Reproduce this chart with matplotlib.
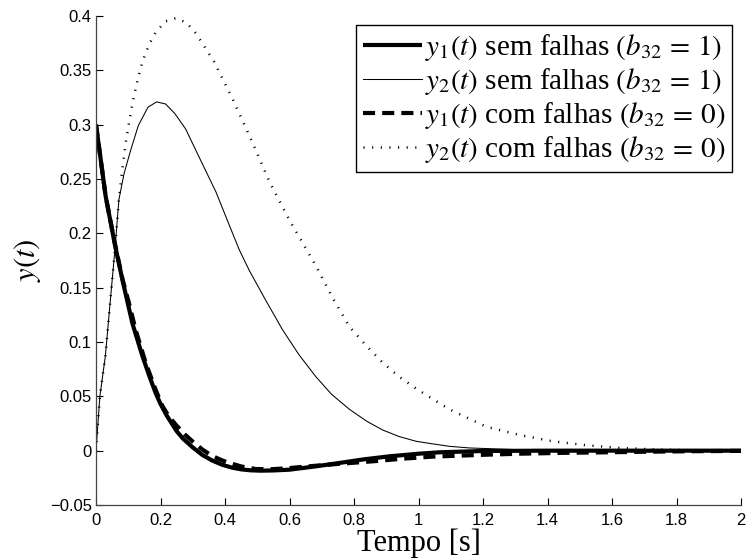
import matplotlib
matplotlib.use("Agg")
import matplotlib.pyplot as plt

plt.rcParams['mathtext.fontset'] = 'stix'
plt.rcParams['font.family'] = ['Liberation Sans', 'DejaVu Sans']

# y1(t) sem falhas (b32 = 1)
t_y1s = [0.0, 0.03, 0.059, 0.082, 0.113, 0.144, 0.165, 0.185, 0.2, 0.22, 0.25, 0.27, 0.3,
         0.33, 0.36, 0.39, 0.42, 0.45, 0.48, 0.51, 0.55, 0.6, 0.68, 0.755, 0.83, 0.91, 1.0,
         1.065, 1.2, 1.4, 1.6, 1.8, 2.0]
v_y1s = [0.3, 0.234, 0.189, 0.157, 0.117, 0.087, 0.069, 0.053, 0.043, 0.032, 0.018, 0.011, 0.003,
         -0.004, -0.009, -0.0128, -0.0155, -0.0172, -0.0181, -0.0184, -0.0182, -0.0175, -0.0145,
         -0.0113, -0.008, -0.0052, -0.0028, -0.0015, -0.0003, 0.0, 0.0, 0.0, 0.0]

# y2(t) sem falhas (b32 = 1)
t_y2s = [0.0, 0.012, 0.029, 0.045, 0.059, 0.071, 0.087, 0.108, 0.131, 0.161, 0.188, 0.216,
         0.245, 0.278, 0.32, 0.372, 0.41, 0.444, 0.475, 0.527, 0.579, 0.63, 0.682, 0.73, 0.786,
         0.84, 0.889, 0.94, 0.993, 1.05, 1.096, 1.158, 1.3, 1.5, 1.7, 2.0]
v_y2s = [0.0, 0.05, 0.087, 0.14, 0.186, 0.231, 0.255, 0.277, 0.299, 0.316, 0.321, 0.319,
         0.310, 0.296, 0.27, 0.238, 0.21, 0.185, 0.166, 0.138, 0.111, 0.088, 0.068, 0.052, 0.038,
         0.027, 0.019, 0.013, 0.0086, 0.006, 0.004, 0.0025, 0.001, 0.0, 0.0, 0.0]

# y1(t) com falhas (b32 = 0)
t_y1c = [0.0, 0.03, 0.059, 0.082, 0.102, 0.123, 0.155, 0.185, 0.206, 0.225, 0.247, 0.275,
         0.299, 0.33, 0.361, 0.39, 0.413, 0.45, 0.496, 0.55, 0.6, 0.651, 0.75, 0.858, 0.95,
         1.043, 1.2, 1.314, 1.45, 1.583, 1.7, 1.85, 2.0]
v_y1c = [0.3, 0.234, 0.19, 0.158, 0.136, 0.111, 0.08, 0.056, 0.041, 0.032, 0.024, 0.015,
         0.0086, 0.001, -0.005, -0.0088, -0.0113, -0.0145, -0.0169, -0.0170, -0.0160, -0.0146,
         -0.0122, -0.0098, -0.0074, -0.0055, -0.0038, -0.0028, -0.002, -0.0015, -0.001, -0.0005,
         -0.0002]

# y2(t) com falhas (b32 = 0)
t_y2c = [0.0, 0.012, 0.029, 0.045, 0.059, 0.071, 0.082, 0.092, 0.102, 0.113, 0.128, 0.144,
         0.165, 0.185, 0.215, 0.247, 0.28, 0.31, 0.366, 0.423, 0.486, 0.537, 0.60, 0.651, 0.682,
         0.735, 0.786, 0.84, 0.889, 0.94, 0.993, 1.096, 1.21, 1.32, 1.417, 1.52, 1.624, 1.73,
         1.83, 2.0]
v_y2c = [0.0, 0.05, 0.087, 0.14, 0.186, 0.231, 0.26, 0.283, 0.301, 0.32, 0.34, 0.358,
         0.374, 0.385, 0.395, 0.398, 0.394, 0.384, 0.358, 0.324, 0.283, 0.248, 0.212, 0.186, 0.170,
         0.140, 0.114, 0.096, 0.081, 0.068, 0.057, 0.038, 0.022, 0.014, 0.0086, 0.005, 0.0025,
         0.0012, 0.0005, 0.0001]

labels = [r'$y_1(t)$ sem falhas $(b_{32}\,=\,1)$',
          r'$y_2(t)$ sem falhas $(b_{32}\,=\,1)$',
          r'$y_1(t)$ com falhas $(b_{32}\,=\,0)$',
          r'$y_2(t)$ com falhas $(b_{32}\,=\,0)$']

xticks = [0, 0.2, 0.4, 0.6, 0.8, 1, 1.2, 1.4, 1.6, 1.8, 2]
xticklabels = ['0', '0.2', '0.4', '0.6', '0.8', '1', '1.2', '1.4', '1.6', '1.8', '2']
yticks = [-0.05, 0, 0.05, 0.1, 0.15, 0.2, 0.25, 0.3, 0.35, 0.4]
yticklabels = ['\u22120.05', '0', '0.05', '0.1', '0.15', '0.2', '0.25', '0.3', '0.35', '0.4']

fig = plt.figure(figsize=(7.46, 5.6), dpi=100)
ax = fig.add_axes([96/746, 1 - 505/560, (741-96)/746, (505-16)/560])

ax.plot(t_y1s, v_y1s, color='black', lw=3.0, solid_capstyle='butt', label=labels[0])
ax.plot(t_y2s, v_y2s, color='black', lw=0.75, label=labels[1])
ax.plot(t_y1c, v_y1c, color='black', lw=3.0, linestyle=(0, (2.9, 1.7)),
        dash_capstyle='butt', label=labels[2])
ax.plot(t_y2c, v_y2c, color='black', lw=1.8, linestyle=(0, (0.45, 3.0)),
        dash_capstyle='butt', label=labels[3])

ax.set_xlim(0, 2)
ax.set_ylim(-0.05, 0.4)
ax.set_xticks(xticks)
ax.set_xticklabels(xticklabels)
ax.set_yticks(yticks)
ax.set_yticklabels(yticklabels)
ax.tick_params(direction='in', length=5, width=0.8, labelsize=12, colors='black')
ax.tick_params(axis='x', pad=6)
ax.tick_params(axis='y', pad=3)
for s in ['top', 'right']:
    ax.spines[s].set_visible(False)
for s in ['left', 'bottom']:
    ax.spines[s].set_color('#444444')
    ax.spines[s].set_linewidth(0.9)

ax.set_xlabel('Tempo [s]', fontsize=22, family='Liberation Serif', labelpad=0)
ax.set_ylabel(r'$y(t)$', fontsize=22, labelpad=5)

leg = ax.legend(loc='upper right', frameon=True, fancybox=False,
                edgecolor='black', framealpha=1, handlelength=2.0, handletextpad=0.1,
                labelspacing=0.1, borderpad=0.25, borderaxespad=0.3,
                prop={'family': 'Liberation Serif', 'size': 21})
leg.get_frame().set_linewidth(1.0)

fig.savefig('out.png', dpi=100)
